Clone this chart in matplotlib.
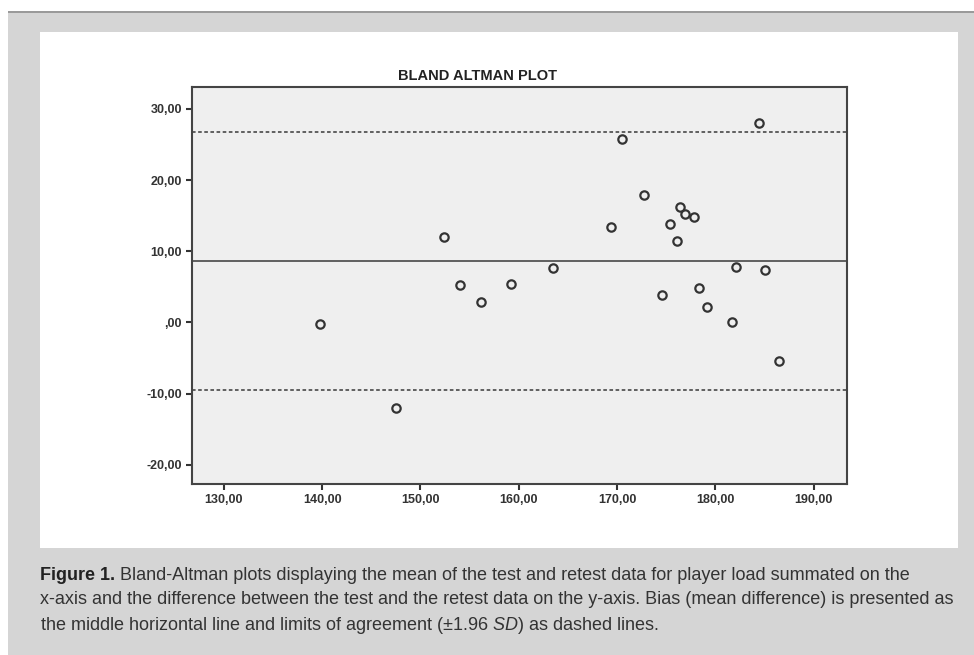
import numpy as np
import matplotlib.pyplot as plt
from matplotlib.patches import Rectangle
from matplotlib.ticker import FuncFormatter

# mean of test and retest (x) and difference (y)
mean_load = [139.8, 147.5, 152.4, 154.0, 156.2, 159.2, 163.5,
             169.4, 170.5, 172.7, 174.6, 175.4, 176.1, 176.4, 176.9,
             177.8, 178.3, 179.1, 181.7, 182.1, 184.4, 185.1, 186.5]
diff_load = [-0.2, -12.1, 12.0, 5.3, 2.8, 5.4, 7.6,
             13.4, 25.8, 17.9, 3.8, 13.9, 11.5, 16.2, 15.2,
             14.8, 4.9, 2.1, 0.1, 7.8, 28.0, 7.4, -5.4]
bias = 8.64
loa_upper = 26.81
loa_lower = -9.54

x_ticks = [130, 140, 150, 160, 170, 180, 190]
y_ticks = [-20, -10, 0, 10, 20, 30]

caption = [
    "Bland-Altman plots displaying the mean of the test and retest data for player load summated on the",
    "x-axis and the difference between the test and the retest data on the y-axis. Bias (mean difference) is presented as",
    "the middle horizontal line and limits of agreement (\u00b11.96 $\\it{SD}$) as dashed lines.",
]

plt.rcParams['font.family'] = ['Liberation Sans', 'DejaVu Sans']
plt.rcParams['mathtext.fontset'] = 'custom'
plt.rcParams['mathtext.rm'] = 'Liberation Sans'
plt.rcParams['mathtext.it'] = 'Liberation Sans:italic'

W, H = 974, 655
fig = plt.figure(figsize=(W / 100, H / 100), dpi=100, facecolor='white')

# grey page frame and white panel behind the chart
def px_rect(x0, y0, x1, y1, **kw):
    fig.patches.append(Rectangle((x0 / W, 1 - y1 / H), (x1 - x0) / W, (y1 - y0) / H,
                                 transform=fig.transFigure, figure=fig, zorder=-10, **kw))

px_rect(8, 12, 974, 655, facecolor='#d5d5d5', edgecolor='none')
px_rect(8, 11, 974, 13, facecolor='#9a9a9a', edgecolor='none')
px_rect(40, 32, 958, 548, facecolor='white', edgecolor='none')

ax = fig.add_axes([191.7 / W, 1 - 484.3 / H, (847 - 191.7) / W, (484.3 - 87.3) / H])
ax.set_facecolor('#efefef')

ax.axhline(bias, color='#555555', lw=1.3)
ax.axhline(loa_upper, color='#555555', lw=1.3, ls=(0, (2, 1.4)))
ax.axhline(loa_lower, color='#555555', lw=1.3, ls=(0, (2, 1.4)))
ax.plot(mean_load, diff_load, 'o', ms=6, mfc='none', mec='#333333', mew=1.6)

ax.set_xlim(126.74, 193.39)
ax.set_ylim(-22.76, 33.05)
ax.set_xticks(x_ticks)
ax.set_yticks(y_ticks)

def comma_fmt(v, pos):
    s = f"{v:.2f}".replace('.', ',')
    if s.startswith('0,'):
        s = s[1:]
    return s

ax.xaxis.set_major_formatter(FuncFormatter(comma_fmt))
ax.yaxis.set_major_formatter(FuncFormatter(comma_fmt))
ax.tick_params(direction='out', length=4, width=1.5, color='#333333',
               labelsize=9, labelcolor='#333333', pad=3)
for lab in ax.get_xticklabels() + ax.get_yticklabels():
    lab.set_fontweight('bold')
for sp in ax.spines.values():
    sp.set_color('#444444')
    sp.set_linewidth(1.5)

fig.text(478 / W, 1 - 76 / H, "BLAND ALTMAN PLOT", ha='center', va='center',
         fontsize=10.5, fontweight='bold', color='#222222')

# caption
cap_size = 13.0
fig_lab = fig.text(40 / W, 1 - 576 / H, "Figure 1.", ha='left', va='center',
                   fontsize=cap_size, fontweight='bold', color='#222222')
renderer = fig.canvas.get_renderer()
lab_w = fig_lab.get_window_extent(renderer).width
fig.text((40 + lab_w + 5) / W, 1 - 576 / H, caption[0], ha='left', va='center',
         fontsize=cap_size, color='#333333')
fig.text(40 / W, 1 - 600 / H, caption[1], ha='left', va='center',
         fontsize=cap_size, color='#333333')
fig.text(40 / W, 1 - 625 / H, caption[2], ha='left', va='center',
         fontsize=cap_size, color='#333333')

fig.savefig('out.png', dpi=100, facecolor=fig.get_facecolor())
